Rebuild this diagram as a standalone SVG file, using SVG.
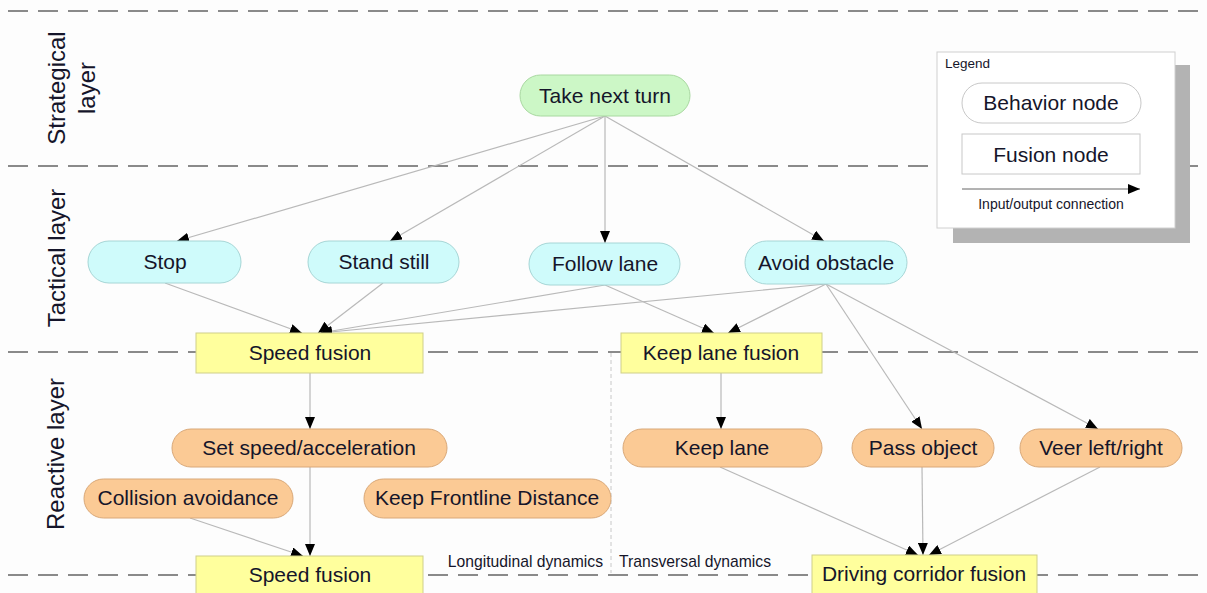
<svg xmlns="http://www.w3.org/2000/svg" width="1207" height="593" viewBox="0 0 1207 593">
<defs>
<marker id="arr" viewBox="0 0 12 10" refX="12" refY="5" markerWidth="12" markerHeight="10" markerUnits="userSpaceOnUse" orient="auto">
<path d="M0,0 L12,5 L0,10 z" fill="#000"/>
</marker>
<style>
text{font-family:"Liberation Sans",Arial,sans-serif;fill:#15152a}
.nt{font-size:21px;text-anchor:middle}
.lay{font-size:24px;text-anchor:middle}
.sm{font-size:15.7px}
.hl{stroke:#8a8a8a;stroke-width:2;stroke-dasharray:20 10;fill:none}
.strat{fill:#ccf7c6;stroke:#a8d8a0;stroke-width:1}
.tac{fill:#cffbfb;stroke:#a6d6d6;stroke-width:1}
.rea{fill:#fbca95;stroke:#d9a878;stroke-width:1}
.fus{fill:#ffff9d;stroke:#cfcf8a;stroke-width:1}
.edge{stroke:#b9b9b9;stroke-width:1.2;fill:none;marker-end:url(#arr)}
</style>
</defs>
<rect x="0" y="0" width="1207" height="593" fill="#fdfdfd"/>

<g id="layers">
<line class="hl" x1="8" y1="11" x2="1207" y2="11"/>
<line class="hl" x1="8" y1="166" x2="1207" y2="166"/>
<line class="hl" x1="8" y1="352" x2="1207" y2="352"/>
<line class="hl" x1="8" y1="575" x2="1207" y2="575"/>
<line x1="611" y1="353" x2="611" y2="573" stroke="#c8c8c8" stroke-width="1" stroke-dasharray="4 3"/>
<text class="lay" transform="translate(65,88) rotate(-90)">Strategical</text>
<text class="lay" transform="translate(95,88) rotate(-90)">layer</text>
<text class="lay" transform="translate(65,258) rotate(-90)">Tactical layer</text>
<text class="lay" transform="translate(64,454) rotate(-90)">Reactive layer</text>
<text class="sm" x="603" y="567" text-anchor="end">Longitudinal dynamics</text>
<text class="sm" x="619" y="567">Transversal dynamics</text>
</g>

<g id="legend">
<rect x="953" y="65" width="237" height="178" fill="#b3b3b3"/>
<rect x="937" y="52" width="238" height="176" fill="#fff" stroke="#d0d0d0" stroke-width="1"/>
<text x="945" y="68" font-size="13.5px">Legend</text>
<rect x="962" y="83" width="179" height="40" rx="20" fill="#fff" stroke="#c8c8c8"/>
<text class="nt" x="1051" y="110">Behavior node</text>
<rect x="962" y="134" width="178" height="40" fill="#fff" stroke="#c8c8c8"/>
<text class="nt" x="1051" y="162">Fusion node</text>
<line x1="962" y1="189" x2="1140" y2="189" stroke="#666" stroke-width="1" marker-end="url(#arr)"/>
<text x="1051" y="209" font-size="14px" text-anchor="middle">Input/output connection</text>
</g>

<g id="connectors">
<line class="edge" x1="605" y1="116" x2="177" y2="241"/>
<line class="edge" x1="605" y1="116" x2="390" y2="241"/>
<line class="edge" x1="605" y1="116" x2="605" y2="243"/>
<line class="edge" x1="605" y1="116" x2="824" y2="241"/>
<line class="edge" x1="165" y1="283" x2="302" y2="333"/>
<line class="edge" x1="383" y1="283" x2="318" y2="333"/>
<line class="edge" x1="605" y1="285" x2="320" y2="333"/>
<line class="edge" x1="826" y1="284" x2="320" y2="333"/>
<line class="edge" x1="605" y1="285" x2="714" y2="333"/>
<line class="edge" x1="826" y1="284" x2="728" y2="333"/>
<line class="edge" x1="826" y1="284" x2="922" y2="429"/>
<line class="edge" x1="826" y1="284" x2="1098" y2="429"/>
<line class="edge" x1="310" y1="373" x2="310" y2="429"/>
<line class="edge" x1="721" y1="373" x2="721" y2="429"/>
<line class="edge" x1="310" y1="467" x2="310" y2="556"/>
<line class="edge" x1="190" y1="518" x2="303" y2="556"/>
<line class="edge" x1="720" y1="467" x2="918" y2="555"/>
<line class="edge" x1="922" y1="467" x2="923" y2="555"/>
<line class="edge" x1="1100" y1="467" x2="929" y2="555"/>
</g>

<g id="take-next-turn"><rect class="strat" x="520" y="75" width="170" height="41" rx="20.5"/><text class="nt" x="605" y="103">Take next turn</text></g>
<g id="stop"><rect class="tac" x="88" y="241" width="153" height="42" rx="21"/><text class="nt" x="165" y="269">Stop</text></g>
<g id="stand-still"><rect class="tac" x="308" y="241" width="151" height="42" rx="21"/><text class="nt" x="384" y="269">Stand still</text></g>
<g id="follow-lane"><rect class="tac" x="529" y="243" width="151" height="42" rx="21"/><text class="nt" x="605" y="271">Follow lane</text></g>
<g id="avoid-obstacle"><rect class="tac" x="745" y="241" width="162" height="43" rx="21.5"/><text class="nt" x="826" y="270">Avoid obstacle</text></g>
<g id="speed-fusion-1"><rect class="fus" x="196" y="333" width="227" height="40"/><text class="nt" x="310" y="360">Speed fusion</text></g>
<g id="keep-lane-fusion"><rect class="fus" x="621" y="333" width="201" height="40"/><text class="nt" x="721" y="360">Keep lane fusion</text></g>
<g id="set-speed"><rect class="rea" x="172" y="429" width="275" height="38" rx="19"/><text class="nt" x="309" y="455">Set speed/acceleration</text></g>
<g id="collision-avoidance"><rect class="rea" x="84" y="479" width="209" height="39" rx="19.5"/><text class="nt" x="188" y="505">Collision avoidance</text></g>
<g id="keep-frontline"><rect class="rea" x="364" y="479" width="247" height="39" rx="19.5"/><text class="nt" x="487" y="505">Keep Frontline Distance</text></g>
<g id="keep-lane"><rect class="rea" x="623" y="429" width="199" height="38" rx="19"/><text class="nt" x="722" y="455">Keep lane</text></g>
<g id="pass-object"><rect class="rea" x="852" y="429" width="142" height="38" rx="19"/><text class="nt" x="923" y="455">Pass object</text></g>
<g id="veer"><rect class="rea" x="1020" y="429" width="162" height="38" rx="19"/><text class="nt" x="1101" y="455">Veer left/right</text></g>
<g id="speed-fusion-2"><rect class="fus" x="196" y="556" width="227" height="44"/><text class="nt" x="310" y="582">Speed fusion</text></g>
<g id="driving-corridor-fusion"><rect class="fus" x="812" y="555" width="225" height="45"/><text class="nt" x="924" y="581">Driving corridor fusion</text></g>
</svg>
